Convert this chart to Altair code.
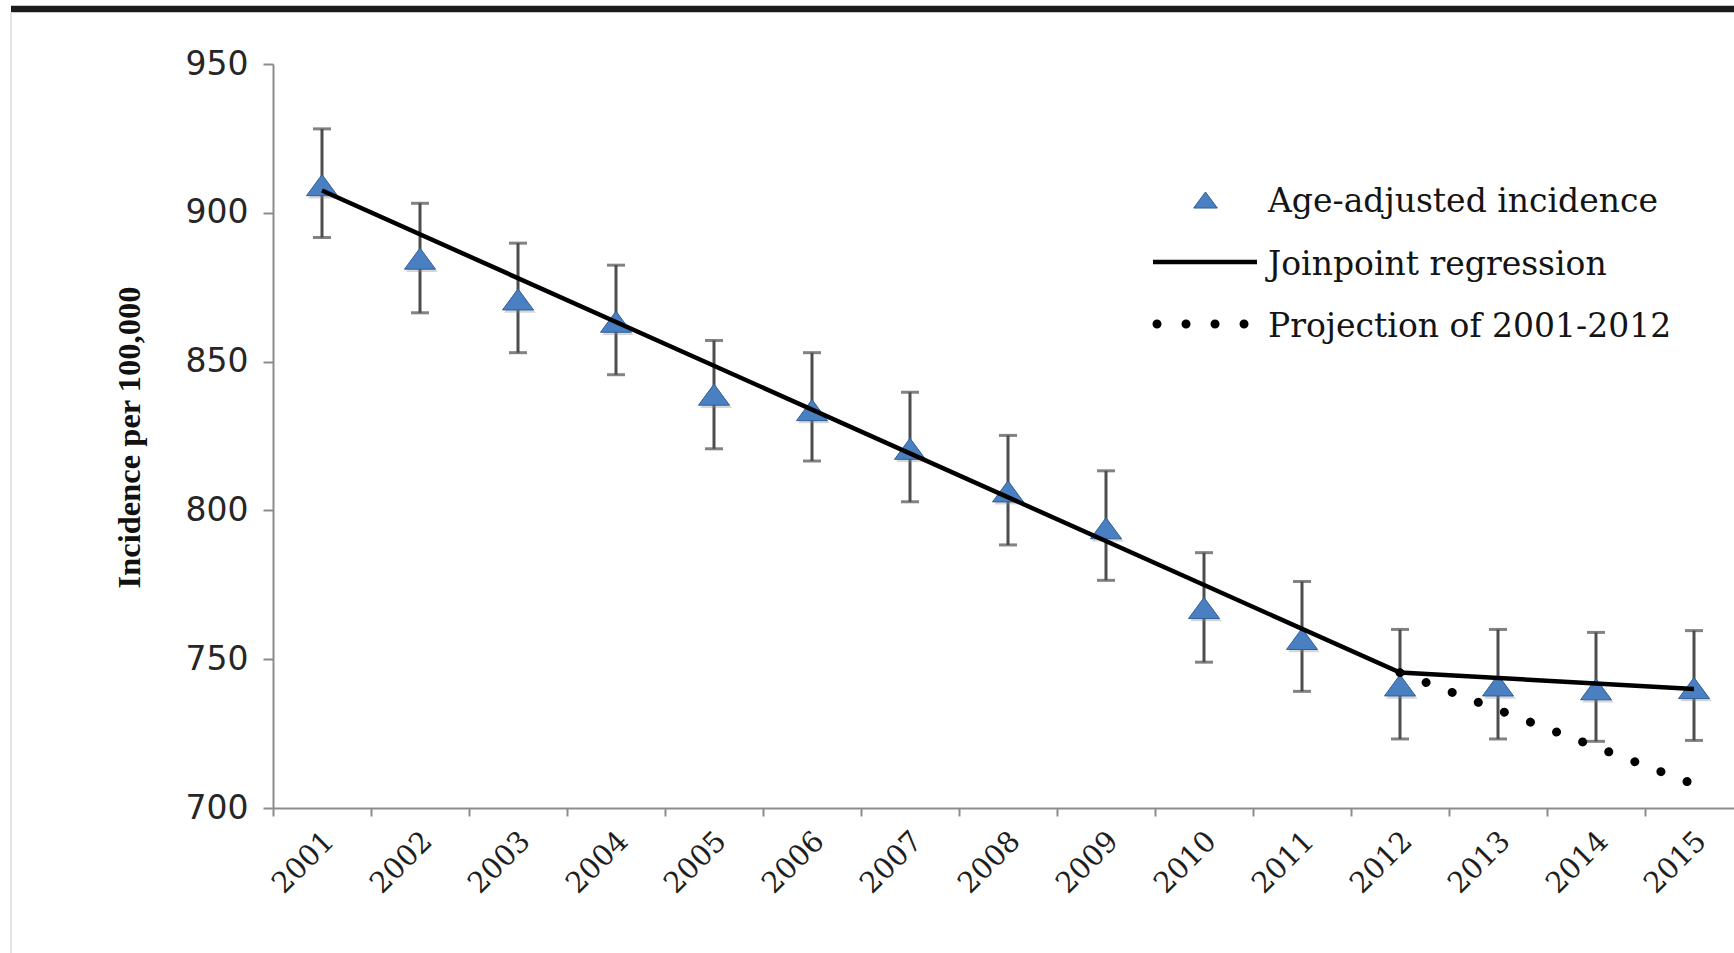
import altair as alt
import pandas as pd

# Age-adjusted incidence per 100,000 with 95% confidence limits
years = list(range(2001, 2016))
incidence = [909.3, 884.6, 870.9, 863.4, 838.9, 833.7, 820.7, 806.4, 794.0, 767.2, 756.8, 741.2, 741.2, 739.9, 740.3]
ci_lower = [891.7, 866.4, 853.0, 845.6, 820.7, 816.6, 802.9, 788.4, 776.5, 749.0, 739.2, 723.2, 723.2, 722.4, 722.7]
ci_upper = [928.2, 903.2, 889.8, 882.4, 857.1, 853.0, 839.7, 825.2, 813.3, 785.8, 776.1, 760.0, 760.0, 759.0, 759.6]

# Joinpoint regression fit (vertices of the segmented trend)
joinpoint_years = [2001, 2012, 2015]
joinpoint_fit = [907.5, 745.5, 740.0]

# Projection of the 2001-2012 trend
projection_years = [2012, 2015]
projection_fit = [745.5, 708.0]

legend_labels = ["Age-adjusted incidence", "Joinpoint regression", "Projection of 2001-2012"]

obs = pd.DataFrame({"year": years, "incidence": incidence, "lower": ci_lower, "upper": ci_upper})
jp = pd.DataFrame({"year": joinpoint_years, "fit": joinpoint_fit})
proj = pd.DataFrame({"year": projection_years, "fit": projection_fit})
one = pd.DataFrame({"k": [0]})

W, H = 1461, 744
BAND = 98.0
X0 = 2000.5
X1 = X0 + W / BAND

AXIS_GREY = "#8c8c8c"
TRI_PATH = "M0,-0.68L1,0.68L-1,0.68Z"

x_scale = alt.Scale(domain=[X0, X1], nice=False, zero=False)
y_scale = alt.Scale(domain=[700, 950], nice=False, zero=False)

x_axis = alt.Axis(
    values=[X0 + i for i in range(15)],
    labelExpr="format(datum.value + 0.5, 'd')",
    labelAngle=315, labelAlign="right", labelBaseline="middle",
    labelOffset=56, labelPadding=20,
    labelFont="DejaVu Serif", labelFontSize=29, labelColor="#1e1e1e",
    labelOverlap=False, labelFlush=False, labelBound=False,
    tickSize=8, tickWidth=2, tickColor=AXIS_GREY,
    domainColor=AXIS_GREY, domainWidth=2, grid=False, title=None,
)
y_axis = alt.Axis(
    values=[700, 750, 800, 850, 900, 950],
    labelFont="DejaVu Sans", labelFontSize=33, labelColor="#262626",
    labelPadding=15, labelFlush=False, labelOverlap=False,
    tickSize=10, tickWidth=2, tickColor=AXIS_GREY,
    domainColor=AXIS_GREY, domainWidth=2, grid=False,
    title="Incidence per 100,000",
    titleFont="Liberation Serif", titleFontWeight="bold", titleFontSize=32.5, titleColor="#111111",
    titleAngle=270, titleX=-144, titleY=373, titleAlign="center", titleBaseline="middle",
)


def X(field):
    return alt.X(f"{field}:Q", scale=x_scale, axis=x_axis, title=None)


def Y(field):
    return alt.Y(f"{field}:Q", scale=y_scale, axis=y_axis, title="Incidence per 100,000")


BAR_GREY = "#4d4d4d"

# error bars: stem and caps
err_stem = alt.Chart(obs).mark_rule(color=BAR_GREY, strokeWidth=3).encode(
    x=X("year"), y=Y("lower"), y2="upper"
)
err_top = alt.Chart(obs).mark_tick(color=BAR_GREY, orient="horizontal", size=18, thickness=3).encode(
    x=X("year"), y=Y("upper")
)
err_bot = alt.Chart(obs).mark_tick(color=BAR_GREY, orient="horizontal", size=18, thickness=3).encode(
    x=X("year"), y=Y("lower")
)

# soft drop shadow under each marker, then the markers
shadow = alt.Chart(obs).mark_point(
    shape=TRI_PATH, size=1000, filled=True, fill="#8a8a8a", opacity=0.35, xOffset=2, yOffset=2.5
).encode(x=X("year"), y=Y("incidence"))
points = alt.Chart(obs).mark_point(
    shape=TRI_PATH, size=961, filled=True, fill="#4a7fc1", stroke="#2f5f9a", strokeWidth=1, opacity=1
).encode(x=X("year"), y=Y("incidence"))

jp_line = alt.Chart(jp).mark_line(color="#000000", strokeWidth=4.5).encode(x=X("year"), y=Y("fit"))

proj_line = alt.Chart(proj).mark_line(
    color="#000000", strokeWidth=9, strokeDash=[0.01, 27.9], strokeCap="round"
).encode(x=X("year"), y=Y("fit"))

# legend
leg_tri = alt.Chart(one).mark_point(
    shape=TRI_PATH, size=560, filled=True, fill="#4a7fc1", stroke="#2f5f9a", strokeWidth=1, opacity=1
).encode(x=alt.value(932.5), y=alt.value(136))
leg_line = alt.Chart(one).mark_rule(color="#000000", strokeWidth=4.5).encode(
    x=alt.value(880), x2=alt.value(984), y=alt.value(198)
)
leg_dots = alt.Chart(one).mark_rule(
    color="#000000", strokeWidth=9, strokeDash=[0.01, 29], strokeCap="round"
).encode(x=alt.value(884), x2=alt.value(972), y=alt.value(260))

leg_texts = [
    alt.Chart(one).mark_text(
        text=label, align="left", baseline="alphabetic", font="DejaVu Serif",
        fontSize=33, color="#141414"
    ).encode(x=alt.value(995), y=alt.value(ypos))
    for label, ypos in zip(legend_labels, [147.5, 210.5, 272.5])
]

# frame: dark band across the top and a faint rule down the left edge
top_band = alt.Chart(one).mark_rule(color="#1c1c1c", strokeWidth=6.5).encode(
    x=alt.value(-262), x2=alt.value(W), y=alt.value(-55)
)
left_edge = alt.Chart(one).mark_rule(color="#d9d9d9", strokeWidth=1.5).encode(
    x=alt.value(-262), y=alt.value(-52), y2=alt.value(889)
)

chart = alt.layer(
    top_band, left_edge,
    err_stem, err_top, err_bot,
    shadow, points, jp_line, proj_line,
    leg_tri, leg_line, leg_dots, *leg_texts,
).properties(
    width=W, height=H,
    autosize=alt.AutoSizeParams(type="none"),
    padding={"left": 273, "top": 64, "right": 0, "bottom": 145},
    background="white",
).configure_view(stroke=None)

chart.save("out.html", embed_options={"renderer": "svg", "actions": False})
